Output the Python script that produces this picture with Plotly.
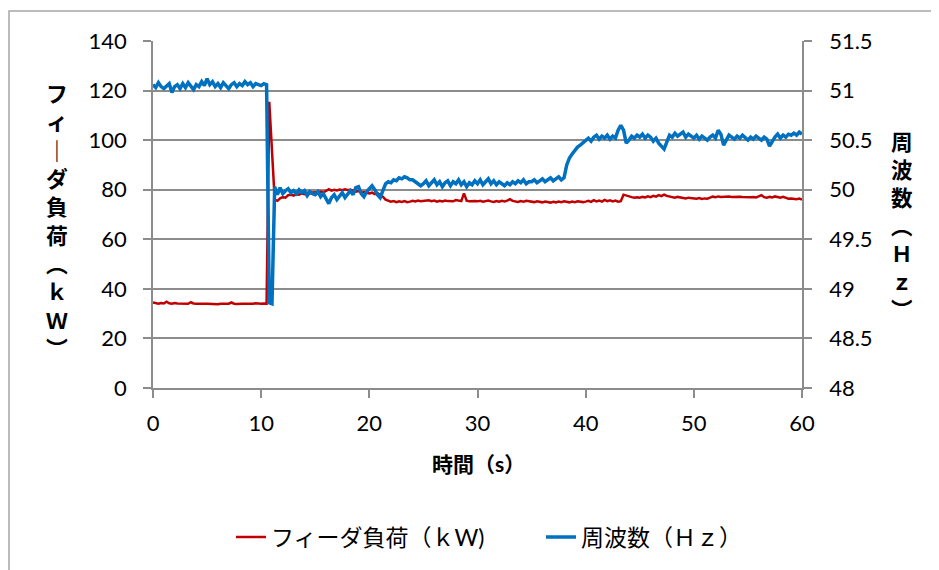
import numpy as np
import plotly.graph_objects as go

# sample times (s), 0.25 s grid
time_s = np.arange(0, 60.001, 0.25)

# feeder load (kW)
load_kw = [
    34.5, 34.2, 34.0, 34.3, 34.1, 34.8, 34.2, 34.0, 34.3, 34.1, 34.0, 34.2, 34.1, 34.0, 34.6, 34.1, 34.0, 33.9, 34.1, 34.0,
    34.0, 33.9, 34.1, 34.0, 33.8, 34.0, 34.1, 33.9, 34.0, 34.5, 34.0, 33.9, 34.1, 34.0, 34.0, 33.9, 34.1, 34.0, 34.2, 34.0,
    34.0, 34.1, 34.0, 115.5, 96.0, 76.0, 75.5, 76.5, 77.0, 76.8, 77.8, 78.0, 77.6, 78.2, 78.0, 78.5, 78.2, 78.8, 78.4, 78.9,
    79.0, 78.7, 79.2, 78.9, 79.5, 80.2, 79.6, 80.0, 79.7, 80.1, 79.8, 80.2, 79.9, 80.0, 79.6, 79.2, 79.5, 78.8, 79.1, 78.7,
    78.5, 78.8, 78.2, 78.6, 78.0, 77.2, 76.0, 75.5, 75.2, 75.4, 75.0, 75.3, 75.1, 75.4, 75.0, 75.2, 75.5, 75.3, 75.6, 75.4,
    75.5, 75.3, 75.7, 75.4, 75.6, 75.2, 75.5, 75.3, 75.6, 75.4, 75.5, 75.3, 75.8, 75.5, 75.4, 78.5, 75.6, 75.3, 75.5, 75.4,
    75.3, 75.5, 75.2, 75.4, 75.6, 75.3, 75.1, 75.4, 75.2, 75.5, 75.3, 75.6, 76.2, 75.5, 75.3, 75.1, 75.4, 75.2, 75.5, 75.3,
    75.2, 75.0, 75.3, 75.1, 74.9, 75.2, 75.0, 74.8, 75.1, 74.9, 75.2, 75.0, 75.3, 75.1, 74.9, 75.2, 75.0, 75.3, 75.1, 75.0,
    75.2, 75.5, 75.1, 75.8, 75.3, 75.6, 75.2, 75.9, 75.4, 75.7, 75.3, 75.6, 75.2, 75.4, 78.0, 77.6, 77.3, 77.0, 76.8, 77.0,
    76.8, 77.1, 76.9, 77.3, 77.0, 77.5, 77.2, 77.8, 77.4, 78.0, 77.5, 77.2, 77.0, 76.8, 77.1, 76.9, 76.7, 76.5, 76.8, 76.6,
    76.5, 76.4, 76.6, 76.3, 76.5, 76.4, 76.8, 77.2, 77.0, 77.3, 77.1, 77.2, 77.0, 77.3, 77.1, 77.2, 77.0, 77.2, 77.1, 77.0,
    77.2, 77.0, 77.1, 76.9, 77.3, 77.8, 77.0, 76.8, 77.1, 76.9, 77.3, 77.0, 76.8, 77.1, 76.6, 76.4, 76.5, 76.3, 76.2, 76.4,
    76.0,
]

# frequency (Hz)
freq_hz = [
    51.06, 51.03, 51.08, 51.04, 51.02, 51.05, 51.07, 50.98, 51.04, 51.06, 51.02, 51.07, 51.03, 51.08, 51.05, 51.01, 51.06, 51.04, 51.09, 51.05,
    51.12, 51.06, 51.09, 51.04, 51.07, 51.03, 51.08, 51.05, 51.02, 51.06, 51.08, 51.04, 51.07, 51.05, 51.09, 51.06, 51.08, 51.04, 51.07, 51.06,
    51.05, 51.07, 51.06, 48.86, 48.85, 50.03, 49.95, 50.02, 49.96, 49.99, 50.01, 49.97, 49.99, 49.96, 50.00, 49.97, 49.99, 49.94, 49.98, 49.96,
    49.95, 49.98, 49.93, 49.96, 49.90, 49.86, 49.92, 49.95, 49.90, 49.93, 49.97, 49.92, 49.95, 49.99, 49.95, 50.02, 50.03, 49.96, 49.93, 49.98,
    50.01, 50.04, 50.00, 49.95, 49.92, 49.98, 50.06, 50.08, 50.07, 50.10, 50.09, 50.12, 50.11, 50.13, 50.12, 50.10, 50.10, 50.08, 50.06, 50.04,
    50.06, 50.09, 50.04, 50.07, 50.10, 50.05, 50.08, 50.03, 50.07, 50.09, 50.04, 50.08, 50.06, 50.10, 50.05, 50.08, 50.03, 50.07, 50.05, 50.09,
    50.06, 50.10, 50.05, 50.08, 50.11, 50.06, 50.09, 50.05, 50.08, 50.06, 50.04, 50.07, 50.05, 50.08, 50.06, 50.09, 50.07, 50.10, 50.06, 50.08,
    50.08, 50.10, 50.07, 50.09, 50.11, 50.08, 50.10, 50.12, 50.09, 50.11, 50.13, 50.10, 50.12, 50.25, 50.32, 50.36, 50.40, 50.43, 50.45, 50.47,
    50.50, 50.52, 50.49, 50.53, 50.55, 50.51, 50.54, 50.52, 50.55, 50.51, 50.54, 50.52, 50.60, 50.65, 50.60, 50.47, 50.50, 50.54, 50.52, 50.55,
    50.53, 50.56, 50.52, 50.55, 50.53, 50.49, 50.52, 50.47, 50.44, 50.41, 50.48, 50.55, 50.53, 50.57, 50.54, 50.56, 50.58, 50.53, 50.56, 50.54,
    50.52, 50.55, 50.51, 50.54, 50.52, 50.50, 50.53, 50.55, 50.52, 50.60, 50.56, 50.45, 50.50, 50.55, 50.53, 50.51, 50.54, 50.52, 50.55, 50.53,
    50.50, 50.53, 50.51, 50.54, 50.52, 50.50, 50.53, 50.51, 50.44, 50.49, 50.53, 50.56, 50.52, 50.55, 50.53, 50.56, 50.55, 50.57, 50.55, 50.58,
    50.56,
]

name_load = "フィーダ負荷（ｋW)"
name_freq = "周波数（Ｈｚ）"
x_title = "時間（s）"
y_title_left = ["フ", "ィ", "｜", "ダ", "負", "荷", "︵", "ｋ", "Ｗ", "︶"]
y_title_right = ["周", "波", "数", "︵", "Ｈ", "ｚ", "︶"]

FONT = "Lato, 'Noto Sans CJK JP', sans-serif"
GRID = "#8c8c8c"

# the page body adds an 8 px margin; the figure is sized to fill the rest
OFF = 8
FW, FH = 939 - OFF, 570 - OFF
# plot-area frame in screen pixels
L, R, T, B = 153, 802, 41, 388
PW, PH = R - L, B - T


def px(xp):
    return (xp - L) / PW


def py(yp):
    return (B - yp) / PH


fig = go.Figure()
fig.add_trace(go.Scatter(x=time_s, y=load_kw, name=name_load, mode="lines",
                         line=dict(color="#C00000", width=2.5)))
fig.add_trace(go.Scatter(x=time_s, y=freq_hz, name=name_freq, mode="lines", yaxis="y2",
                         line=dict(color="#0070C0", width=3.5)))

axis_common = dict(showline=True, linecolor=GRID, linewidth=1.5, zeroline=False,
                   ticks="outside", ticklen=8, tickcolor=GRID, tickwidth=1.5,
                   tickfont=dict(size=22), automargin=False)

fig.update_layout(
    width=FW, height=FH,
    margin=dict(l=L - OFF, r=939 - R, t=T - OFF, b=570 - B),
    paper_bgcolor="white", plot_bgcolor="white",
    font=dict(family=FONT, size=21, color="#000000"),
    showlegend=True,
    legend=dict(orientation="h", xref="container", yref="container",
                x=(231 - OFF) / FW, xanchor="left", y=1 - (537 - OFF) / FH, yanchor="middle",
                font=dict(size=23), traceorder="normal", entrywidth=265),
    xaxis=dict(range=[0, 60], dtick=10, tick0=0, showgrid=False, ticklabelstandoff=7,
               **axis_common),
    yaxis=dict(range=[0, 140], dtick=20, tick0=0, showgrid=True, gridcolor=GRID, gridwidth=1.5,
               ticklabelstandoff=12, **axis_common),
    yaxis2=dict(range=[48, 51.5], dtick=0.5, tick0=48, overlaying="y", side="right",
                showgrid=False, ticklabelstandoff=13, **axis_common),
    annotations=[
        dict(text="<b>" + x_title + "</b>", xref="paper", yref="paper",
             x=px(478), y=py(463), xanchor="center", yanchor="middle", showarrow=False,
             font=dict(size=21)),
        dict(text="<b>" + "<br>".join(y_title_left) + "</b>", xref="paper", yref="paper",
             x=px(57), y=py(221), xanchor="center", yanchor="middle",
             showarrow=False, font=dict(size=21.8)),
        dict(text="<b>" + "<br>".join(y_title_right) + "</b>", xref="paper", yref="paper",
             x=px(902), y=py(226), xanchor="center", yanchor="middle",
             showarrow=False, font=dict(size=21.5)),
    ],
    shapes=[
        dict(type="rect", xref="paper", yref="paper",
             x0=px(9), x1=px(960), y0=py(600), y1=py(11),
             line=dict(color="#a6a6a6", width=1.5), fillcolor="rgba(0,0,0,0)", layer="below"),
    ],
)

fig.write_html("out.html")
